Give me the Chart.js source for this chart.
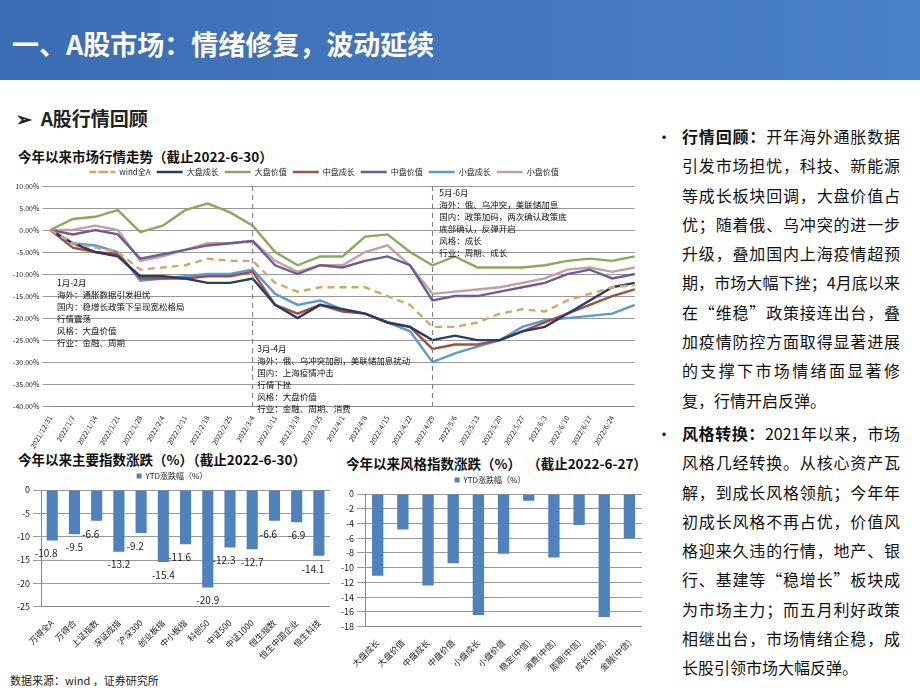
<!DOCTYPE html>
<html><head><meta charset="utf-8">
<script src="https://cdn.jsdelivr.net/npm/chart.js@4/dist/chart.umd.min.js"></script>
<style>
body{margin:0;width:920px;height:690px;overflow:hidden;font-family:"Noto Sans CJK SC","Noto Sans",sans-serif;background:#fff;position:relative}
#hdr{position:absolute;left:0;top:0;width:920px;height:80px;background:linear-gradient(90deg,#3a6db4,#4a80c6);}
#hdr div{position:absolute;left:12px;top:24px;color:#fff;font-size:27px;font-weight:bold}
#sub{position:absolute;left:16px;top:104px;font-size:19px;font-weight:bold;color:#222}
.ct{position:absolute;font-size:13.5px;font-weight:bold;color:#111}
#right{position:absolute;left:656px;top:122px;width:244px;font-size:16px;line-height:29.3px;color:#111}
#right p{margin:0 0 0 0;padding-left:26px;position:relative;text-align:justify}
#right p:before{content:"•";position:absolute;left:0px}
#foot{position:absolute;left:10px;top:672px;font-size:11px;color:#222}
canvas{position:absolute}
</style></head><body>
<div id="hdr"><div>一、A股市场：情绪修复，波动延续</div></div>
<div id="sub">➢&nbsp;&nbsp;A股行情回顾</div>
<div class="ct" style="left:18px;top:146px">今年以来市场行情走势（截止2022-6-30）</div>
<div class="ct" style="left:18px;top:449px">今年以来主要指数涨跌（%）（截止2022-6-30）</div>
<div class="ct" style="left:346px;top:453px">今年以来风格指数涨跌（%）&nbsp;&nbsp;（截止2022-6-27）</div>
<div id="right">
<p><b>行情回顾：</b>开年海外通胀数据引发市场担忧，科技、新能源等成长板块回调，大盘价值占优；随着俄、乌冲突的进一步升级，叠加国内上海疫情超预期，市场大幅下挫；4月底以来在“维稳”政策接连出台，叠加疫情防控方面取得显著进展的支撑下市场情绪面显著修复，行情开启反弹。</p>
<p style="margin-top:4px"><b>风格转换：</b>2021年以来，市场风格几经转换。从核心资产瓦解，到成长风格领航；今年年初成长风格不再占优，价值风格迎来久违的行情，地产、银行、基建等“稳增长”板块成为市场主力；而五月利好政策相继出台，市场情绪企稳，成长股引领市场大幅反弹。</p>
</div>
<div id="foot">数据来源：wind ，证券研究所</div>
<canvas id="c1" style="left:10px;top:162px" width="632" height="288"></canvas>
<canvas id="c2" style="left:14px;top:466px" width="316" height="198"></canvas>
<canvas id="c3" style="left:338px;top:470px" width="304" height="206"></canvas>
<script>
const dates=["2021/12/31","2022/1/7","2022/1/14","2022/1/21","2022/1/28","2022/2/4","2022/2/11","2022/2/18","2022/2/25","2022/3/4","2022/3/11","2022/3/18","2022/3/25","2022/4/1","2022/4/8","2022/4/15","2022/4/22","2022/4/29","2022/5/6","2022/5/13","2022/5/20","2022/5/27","2022/6/3","2022/6/10","2022/6/17","2022/6/24",""];
const windA=[0,-3,-4,-5,-9,-8.5,-8,-6.5,-7,-7,-12,-14,-13,-13,-13,-15,-17,-22,-22,-21,-19,-18,-18.5,-16,-14.5,-13,-12.5];
const bigGrowth=[0,-3,-5,-6,-10.5,-10.5,-11,-12,-12,-11,-17,-20,-17,-18,-19,-21,-22,-25,-24,-25,-25,-23,-22,-19,-16,-13,-12];
const bigValue=[0,2.5,3,4.5,-0.5,1,4.5,6,4,1,-5,-8,-6,-6,-1.5,-1,-5,-8,-6,-8.5,-8.5,-8.5,-8,-7,-6.5,-7,-6];
const midGrowth=[0,-4,-5,-5.5,-11,-11,-11,-10.5,-10.5,-9.5,-17,-19,-17,-18.5,-19,-21,-22,-27,-26,-26,-25,-23,-21,-19,-17,-15,-13.5];
const midValue=[0,-1,0,-1,-6.5,-5.5,-4.5,-3.5,-3,-2.5,-8,-10,-8,-8.5,-7,-6,-8,-16,-15,-15,-14,-13,-12,-10,-9,-11,-10];
const smallGrowth=[0,-3,-3.5,-5,-11.5,-11,-10.5,-10,-10,-9,-14.5,-17,-16,-18,-19,-21,-23,-30,-28,-26.5,-25,-22,-20.5,-20,-19.5,-19,-17];
const smallValue=[0,0,1,0,-7,-6,-4.5,-3,-3,-2.5,-7,-9.5,-8,-8,-5,-3.5,-8,-14.5,-14,-13.5,-13,-12,-11,-9,-8.5,-9.5,-8.5];
const idxCats=["万得全A","万得合","上证指数","深证成指","沪深300","创业板指","中小板指","科创50","中证500","中证1000","恒生指数","恒生中国企业","恒生科技"];
const idxVals=[-10.8,-9.5,-6.6,-13.2,-9.2,-15.4,-11.6,-20.9,-12.3,-12.7,-6.6,-6.9,-14.1];
const styCats=["大盘成长","大盘价值","中盘成长","中盘价值","小盘成长","小盘价值","稳定(中信)","消费(中信)","周期(中信)","成长(中信)","金融(中信)"];
const styVals=[-11.1,-4.8,-12.4,-9.4,-16.4,-8.1,-0.9,-8.6,-4.2,-16.7,-6.0];
const F='"Noto Sans CJK SC",sans-serif';
Chart.defaults.font.family=F;Chart.defaults.color='#222';Chart.defaults.animation=false;
const ls=(l,d,c,dash)=>({label:l,data:d,borderColor:c,backgroundColor:c,borderWidth:2.4,pointRadius:0,tension:0,borderDash:dash||[]});
const notes={id:'notes',afterDraw(ch){const c=ch.ctx,x=ch.scales.x,y=ch.scales.y,a=ch.chartArea;
 c.save();c.strokeStyle='#6a7a90';c.lineWidth=1;c.setLineDash([5,4]);
 [9,17].forEach(i=>{const px=x.getPixelForValue(i);c.beginPath();c.moveTo(px,a.top);c.lineTo(px,a.bottom);c.stroke();});
 c.setLineDash([]);c.fillStyle='#111';c.font='8.5px '+F;
 const blk=(tx,ty,arr)=>arr.forEach((s,k)=>c.fillText(s,tx,ty+k*12));
 blk(x.getPixelForValue(0.3),y.getPixelForValue(-12),["1月-2月","海外：通胀数据引发担忧","国内：稳增长政策下呈现宽松格局","行情震荡","风格：大盘价值","行业：金融、周期"]);
 blk(x.getPixelForValue(9.2),y.getPixelForValue(-27),["3月-4月","海外：俄、乌冲突加剧，美联储加息扰动","国内：上海疫情冲击","行情下挫","风格：大盘价值","行业：金融、周期、消费"]);
 blk(x.getPixelForValue(17.3),y.getPixelForValue(8.4),["5月-6月","海外：俄、乌冲突，美联储加息","国内：政策加码，两次确认政策底","底部确认，反弹开启","风格：成长","行业：周期、成长"]);
 c.restore();}};
new Chart(c1,{type:'line',data:{labels:dates,datasets:[ls('wind全A',windA,'#d2a865',[7,5]),ls('大盘成长',bigGrowth,'#2c3a68'),ls('大盘价值',bigValue,'#8ea85a'),ls('中盘成长',midGrowth,'#a05040'),ls('中盘价值',midValue,'#6d5b9e'),ls('小盘成长',smallGrowth,'#5a9ad2'),ls('小盘价值',smallValue,'#c4a09c')]},
 options:{responsive:false,layout:{padding:{right:4}},plugins:{legend:{labels:{boxWidth:26,boxHeight:0,font:{size:8},padding:6}},tooltip:{enabled:false}},
 scales:{x:{offset:false,grid:{display:false},border:{color:'#888'},ticks:{font:{size:7},maxRotation:60,minRotation:60,autoSkip:false,padding:0}},
 y:{min:-40,max:10,ticks:{stepSize:5,font:{size:7},callback:v=>v.toFixed(2)+'%'},grid:{color:'#999',lineWidth:1},border:{display:false}}}},plugins:[notes]});
const lbl=(pos)=>({id:'lbl',afterDatasetsDraw(ch){const c=ch.ctx;c.save();c.font='10px '+F;c.fillStyle='#222';c.textAlign='center';
 ch.getDatasetMeta(0).data.forEach((b,i)=>{const v=ch.data.datasets[0].data[i];c.fillText(v.toFixed(1),b.x+(i%2?0:-6),b.y+13);});c.restore();}});
const barOpt=(min,step,rot)=>({responsive:false,plugins:{legend:{labels:{boxWidth:5,boxHeight:5,font:{size:8},padding:6}},tooltip:{enabled:false}},
 scales:{x:{position:'bottom',grid:{display:false},border:{color:'#888'},ticks:{font:{size:8.5},maxRotation:45,minRotation:45,autoSkip:false}},
 y:{min:min,max:0,ticks:{stepSize:step,font:{size:9}},grid:{color:'#999',borderDash:[4,3]},border:{display:true,color:'#888'}}}});
new Chart(c2,{type:'bar',data:{labels:idxCats,datasets:[{label:'YTD涨跌幅（%）',data:idxVals,backgroundColor:'#4f81bd',barPercentage:0.5,categoryPercentage:1}]},options:barOpt(-25,5),plugins:[lbl()]});
new Chart(c3,{type:'bar',data:{labels:styCats,datasets:[{label:'YTD涨跌幅（%）',data:styVals,backgroundColor:'#4f81bd',barPercentage:0.45,categoryPercentage:1}]},options:barOpt(-18,2)});
</script></body></html>
